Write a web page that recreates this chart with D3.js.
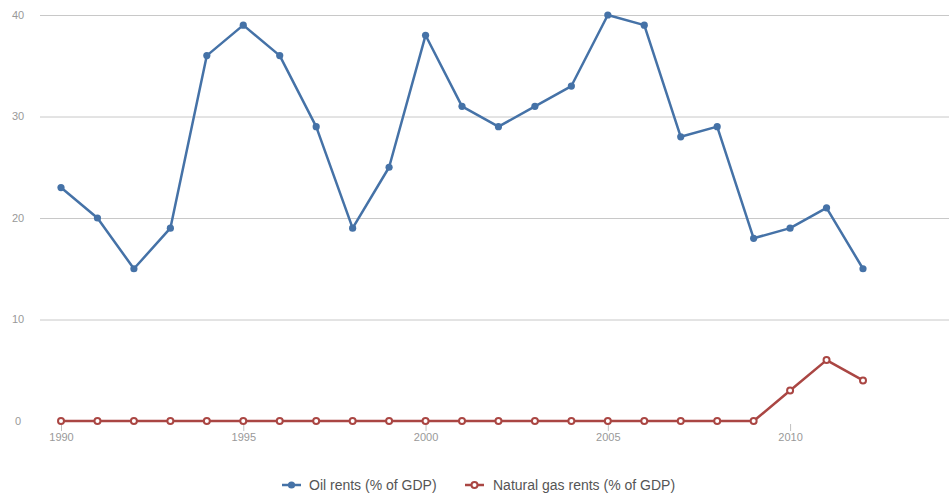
<!DOCTYPE html>
<html>
<head>
<meta charset="utf-8">
<script src="https://cdn.jsdelivr.net/npm/d3@7"></script>
<style>
  body { margin: 0; background: #fff; }
  svg { font-family: "Liberation Sans", Arial, sans-serif; }
</style>
</head>
<body>
<svg id="chart"></svg>
<script>
// data
const years = d3.range(1990, 2013);
const oilRents = [23, 20, 15, 19, 36, 39, 36, 29, 19, 25, 38, 31, 29, 31, 33, 40, 39, 28, 29, 18, 19, 21, 15];
const gasRents = [0, 0, 0, 0, 0, 0, 0, 0, 0, 0, 0, 0, 0, 0, 0, 0, 0, 0, 0, 0, 3, 6, 4];
const yTicks = [0, 10, 20, 30, 40];
const xTicks = [1990, 1995, 2000, 2005, 2010];

const width = 949;
const height = 498;
const margin = {top: 15, right: 0, bottom: 77, left: 40};

const series = [
  {name: "Oil rents (% of GDP)", values: oilRents, color: "#4572a7", open: false},
  {name: "Natural gas rents (% of GDP)", values: gasRents, color: "#aa4643", open: true}
];

const svg = d3.select("#chart")
  .attr("width", width)
  .attr("height", height);

// scales
const x = d3.scaleLinear()
  .domain([1990, 2012])
  .range([61, 863]);
const y = d3.scaleLinear()
  .domain([0, 40])
  .range([height - margin.bottom, margin.top]);

// grid lines (not on zero)
svg.append("g")
  .selectAll("line")
  .data(yTicks.filter(d => d > 0))
  .join("line")
    .attr("x1", margin.left)
    .attr("x2", width)
    .attr("y1", d => y(d) + 0.5)
    .attr("y2", d => y(d) + 0.5)
    .attr("stroke", "#c8c8c8")
    .attr("stroke-width", 1);

// y labels
svg.append("g")
  .selectAll("text")
  .data(yTicks)
  .join("text")
    .attr("x", 18)
    .attr("y", d => y(d))
    .attr("dy", "0.35em")
    .attr("text-anchor", "middle")
    .attr("font-size", 11)
    .attr("fill", "#999")
    .text(d => d);

// x axis ticks + labels
const xAxis = svg.append("g")
  .attr("transform", `translate(0,${y(0)})`)
  .call(d3.axisBottom(x).tickValues(xTicks).tickFormat(d3.format("d")).tickSize(10).tickPadding(2))
  .call(g => g.select(".domain").remove());
xAxis.selectAll(".tick line").attr("stroke", "#c0c0c0").attr("y1", 3);
xAxis.selectAll(".tick text")
  .attr("fill", "#999")
  .attr("font-size", 11)
  .attr("font-family", "Liberation Sans, Arial, sans-serif");

// lines
const line = d3.line()
  .x((d, i) => x(years[i]))
  .y(d => y(d));

series.forEach(s => {
  svg.append("path")
    .datum(s.values)
    .attr("fill", "none")
    .attr("stroke", s.color)
    .attr("stroke-width", 2.5)
    .attr("stroke-linejoin", "round")
    .attr("d", line);

  svg.append("g")
    .selectAll("circle")
    .data(s.values)
    .join("circle")
      .attr("cx", (d, i) => x(years[i]))
      .attr("cy", d => y(d))
      .attr("r", s.open ? 3 : 3.6)
      .attr("fill", s.open ? "#fff" : s.color)
      .attr("stroke", s.color)
      .attr("stroke-width", s.open ? 2 : 0);
});

// legend
const legendItems = [
  {x: 282, textX: 309},
  {x: 465, textX: 493}
];
const legend = svg.append("g").attr("transform", "translate(0,485)");
series.forEach((s, i) => {
  const lx = legendItems[i].x;
  legend.append("line")
    .attr("x1", lx).attr("x2", lx + 19)
    .attr("y1", 0).attr("y2", 0)
    .attr("stroke", s.color)
    .attr("stroke-width", 2.5);
  legend.append("circle")
    .attr("cx", lx + 9.5).attr("cy", 0)
    .attr("r", s.open ? 3 : 3.6)
    .attr("fill", s.open ? "#fff" : s.color)
    .attr("stroke", s.color)
    .attr("stroke-width", s.open ? 2 : 0);
  legend.append("text")
    .attr("x", legendItems[i].textX)
    .attr("y", 0)
    .attr("dy", "0.35em")
    .attr("font-size", 14)
    .attr("fill", "#555")
    .text(s.name);
});
</script>
</body>
</html>
